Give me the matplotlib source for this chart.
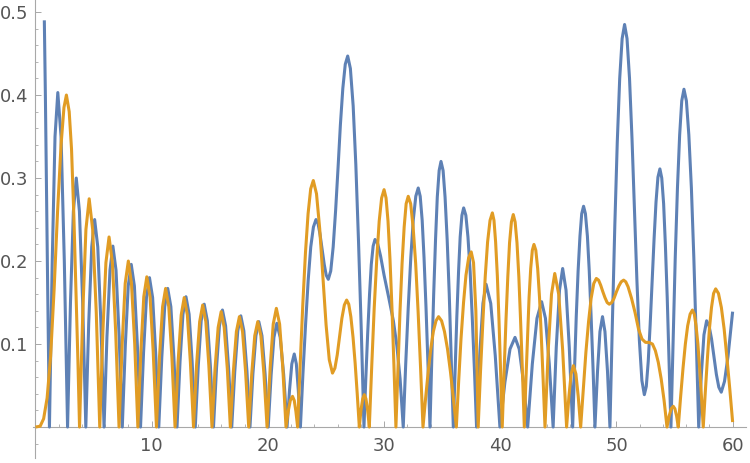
import matplotlib
matplotlib.use("Agg")
import matplotlib.pyplot as plt
from matplotlib.ticker import MultipleLocator

# ---- data (x, value) ----
blue_points = [
    (0.76, 0.49), (0.85, 0.40), (0.95, 0.28), (1.05, 0.165), (1.12, 0.09), (1.20, 0),
    (1.44, 0.20), (1.68, 0.35), (1.92, 0.403), (2.20, 0.35), (2.48, 0.20), (2.76, 0),
    (3.01, 0.15), (3.26, 0.26), (3.51, 0.30), (3.78, 0.26), (4.06, 0.15), (4.33, 0),
    (4.58, 0.125), (4.84, 0.217), (5.09, 0.25), (5.36, 0.217), (5.63, 0.125), (5.90, 0),
    (6.15, 0.109), (6.41, 0.189), (6.66, 0.218), (6.93, 0.189), (7.20, 0.109), (7.47, 0),
    (7.73, 0.098), (7.98, 0.170), (8.24, 0.196), (8.51, 0.170), (8.77, 0.098), (9.04, 0),
    (9.30, 0.090), (9.55, 0.156), (9.81, 0.180), (10.08, 0.156), (10.34, 0.090), (10.61, 0),
    (10.87, 0.084), (11.12, 0.145), (11.38, 0.167), (11.65, 0.145), (11.91, 0.084), (12.18, 0),
    (12.44, 0.079), (12.69, 0.136), (12.95, 0.157), (13.22, 0.136), (13.48, 0.079), (13.75, 0),
    (14.01, 0.074), (14.26, 0.128), (14.52, 0.148), (14.79, 0.128), (15.05, 0.074), (15.32, 0),
    (15.58, 0.071), (15.83, 0.122), (16.09, 0.141), (16.36, 0.122), (16.62, 0.071), (16.89, 0),
    (17.15, 0.067), (17.41, 0.116), (17.67, 0.134), (17.93, 0.116), (18.20, 0.067), (18.46, 0),
    (18.71, 0.064), (18.97, 0.110), (19.22, 0.127), (19.49, 0.110), (19.76, 0.064), (20.03, 0),
    (20.28, 0.063), (20.52, 0.108), (20.77, 0.125), (21.06, 0.108), (21.36, 0.063), (21.65, 0),
    (21.86, 0.044), (22.06, 0.076), (22.27, 0.088), (22.45, 0.076), (22.62, 0.044), (22.80, 0),
    (23.02, 0.065), (23.25, 0.125), (23.47, 0.177), (23.69, 0.217), (23.92, 0.241), (24.14, 0.250),
    (24.32, 0.245), (24.49, 0.232), (24.67, 0.214), (24.85, 0.196), (25.02, 0.183), (25.20, 0.178),
    (25.41, 0.188), (25.62, 0.217), (25.83, 0.261), (26.04, 0.3125), (26.24, 0.364), (26.45, 0.408),
    (26.66, 0.437), (26.87, 0.447),
    (27.10, 0.432), (27.34, 0.387), (27.57, 0.316), (27.80, 0.224), (28.04, 0.116), (28.27, 0),
    (28.43, 0.059), (28.59, 0.113), (28.75, 0.160), (28.90, 0.196), (29.06, 0.218), (29.22, 0.226),
    (29.45, 0.221), (29.70, 0.206), (30.00, 0.183), (30.40, 0.156), (30.80, 0.128), (31.10, 0.098),
    (31.38, 0.058), (31.65, 0),
    (31.86, 0.075), (32.08, 0.144), (32.30, 0.204), (32.51, 0.249), (32.73, 0.278), (32.94, 0.288),
    (33.11, 0.278), (33.28, 0.249), (33.44, 0.204), (33.61, 0.144), (33.78, 0.075), (33.95, 0),
    (34.11, 0.083), (34.27, 0.160), (34.43, 0.226), (34.58, 0.277), (34.74, 0.309), (34.90, 0.320),
    (35.08, 0.309), (35.25, 0.277), (35.43, 0.226), (35.61, 0.160), (35.78, 0.083), (35.96, 0),
    (36.11, 0.068), (36.26, 0.132), (36.41, 0.187), (36.55, 0.229), (36.70, 0.255), (36.85, 0.264),
    (37.04, 0.255), (37.22, 0.229), (37.41, 0.187), (37.59, 0.132), (37.78, 0.068), (37.96, 0),
    (38.23, 0.086), (38.51, 0.149), (38.78, 0.172), (39.18, 0.149), (39.57, 0.086), (39.97, 0),
    (40.40, 0.054), (40.84, 0.094), (41.27, 0.108), (41.63, 0.094), (42.00, 0.054), (42.36, 0),
    (42.76, 0.076), (43.16, 0.131), (43.56, 0.151), (43.89, 0.131), (44.22, 0.076), (44.55, 0),
    (44.82, 0.096), (45.10, 0.165), (45.37, 0.191), (45.66, 0.165), (45.94, 0.096), (46.23, 0),
    (46.39, 0.069), (46.54, 0.133), (46.70, 0.188), (46.86, 0.230), (47.01, 0.257), (47.17, 0.266),
    (47.33, 0.257), (47.50, 0.230), (47.66, 0.188), (47.82, 0.133), (47.99, 0.069), (48.15, 0),
    (48.37, 0.067), (48.58, 0.115), (48.80, 0.133), (49.01, 0.115), (49.23, 0.067), (49.44, 0),
    (49.65, 0.126), (49.86, 0.243), (50.07, 0.343), (50.28, 0.420), (50.49, 0.468), (50.70, 0.485),
    (50.91, 0.468), (51.125, 0.420), (51.34, 0.347), (51.55, 0.262), (51.76, 0.177), (51.975, 0.104),
    (52.19, 0.056), (52.40, 0.039),
    (52.57, 0.049), (52.735, 0.079), (52.90, 0.123), (53.07, 0.175), (53.24, 0.227), (53.405, 0.271),
    (53.57, 0.301), (53.74, 0.311),
    (53.90, 0.300), (54.06, 0.269), (54.21, 0.220), (54.37, 0.156), (54.53, 0.080), (54.69, 0),
    (54.88, 0.105), (55.06, 0.204), (55.25, 0.288), (55.44, 0.352), (55.62, 0.393), (55.81, 0.407),
    (56.02, 0.393), (56.23, 0.352), (56.45, 0.288), (56.66, 0.204), (56.87, 0.105), (57.08, 0),
    (57.31, 0.064), (57.53, 0.111), (57.76, 0.128), (57.97, 0.122), (58.18, 0.1065), (58.39, 0.085),
    (58.60, 0.0635), (58.81, 0.048), (59.02, 0.042),
    (59.30, 0.055), (59.60, 0.085), (60.00, 0.139),
]

orange_points = [
    (0.0, 0), (0.4, 0.001), (0.7, 0.01), (1.0, 0.035), (1.3, 0.085), (1.6, 0.165), (1.9, 0.26),
    (2.2, 0.34), (2.45, 0.385), (2.66, 0.40), (2.9, 0.38), (3.1, 0.335), (3.3, 0.255), (3.5, 0.155),
    (3.65, 0.08), (3.79, 0),
    (4.07, 0.138), (4.34, 0.238), (4.62, 0.275), (4.92, 0.238), (5.23, 0.138), (5.53, 0),
    (5.80, 0.115), (6.06, 0.198), (6.33, 0.229), (6.62, 0.198), (6.90, 0.115), (7.19, 0),
    (7.46, 0.100), (7.72, 0.173), (7.99, 0.200), (8.26, 0.173), (8.54, 0.100), (8.81, 0),
    (9.07, 0.091), (9.32, 0.157), (9.58, 0.181), (9.86, 0.157), (10.13, 0.091), (10.41, 0),
    (10.67, 0.084), (10.94, 0.145), (11.20, 0.167), (11.47, 0.145), (11.74, 0.084), (12.01, 0),
    (12.27, 0.078), (12.54, 0.135), (12.80, 0.156), (13.07, 0.135), (13.33, 0.078), (13.60, 0),
    (13.86, 0.074), (14.13, 0.127), (14.39, 0.147), (14.66, 0.127), (14.92, 0.074), (15.19, 0),
    (15.45, 0.070), (15.72, 0.120), (15.98, 0.139), (16.24, 0.120), (16.51, 0.070), (16.77, 0),
    (17.03, 0.067), (17.29, 0.115), (17.55, 0.133), (17.82, 0.115), (18.08, 0.067), (18.35, 0),
    (18.61, 0.064), (18.87, 0.110), (19.13, 0.127), (19.40, 0.110), (19.66, 0.064), (19.93, 0),
    (20.20, 0.072), (20.46, 0.124), (20.73, 0.143), (21.01, 0.124), (21.28, 0.072), (21.56, 0),
    (21.75, 0.019), (21.93, 0.032), (22.12, 0.037), (22.27, 0.032), (22.41, 0.019), (22.56, 0),
    (22.785, 0.077), (23.01, 0.149), (23.235, 0.210), (23.46, 0.257), (23.685, 0.287), (23.91, 0.297),
    (24.185, 0.281), (24.46, 0.239), (24.735, 0.181), (25.01, 0.123), (25.285, 0.081), (25.56, 0.065),
    (25.77, 0.071), (25.97, 0.087), (26.17, 0.109), (26.37, 0.131), (26.58, 0.147), (26.78, 0.153),
    (26.96, 0.148), (27.14, 0.133), (27.33, 0.108), (27.51, 0.077), (27.69, 0.040), (27.87, 0),
    (28.01, 0.020), (28.16, 0.034), (28.30, 0.039), (28.44, 0.034), (28.59, 0.020), (28.73, 0),
    (28.94, 0.074), (29.15, 0.143), (29.37, 0.202), (29.58, 0.248), (29.79, 0.276), (30.00, 0.286),
    (30.17, 0.276), (30.34, 0.248), (30.51, 0.202), (30.68, 0.143), (30.85, 0.074), (31.02, 0),
    (31.20, 0.072), (31.37, 0.139), (31.55, 0.197), (31.73, 0.241), (31.90, 0.269), (32.08, 0.278),
    (32.29, 0.269), (32.50, 0.241), (32.72, 0.197), (32.93, 0.139), (33.14, 0.072), (33.35, 0),
    (33.57, 0.034), (33.80, 0.067), (34.02, 0.094), (34.24, 0.115), (34.47, 0.128), (34.69, 0.133),
    (34.95, 0.128), (35.20, 0.115), (35.46, 0.094), (35.71, 0.067), (35.97, 0.034), (36.22, 0),
    (36.42, 0.055), (36.62, 0.106), (36.84, 0.150), (37.05, 0.183), (37.28, 0.204), (37.50, 0.211),
    (37.70, 0.198), (37.90, 0.140), (38.10, 0),
    (38.30, 0.067), (38.51, 0.129), (38.71, 0.182), (38.91, 0.223), (39.12, 0.249), (39.32, 0.258),
    (39.46, 0.249), (39.60, 0.223), (39.75, 0.182), (39.89, 0.129), (40.03, 0.067), (40.17, 0),
    (40.33, 0.066), (40.49, 0.128), (40.65, 0.181), (40.80, 0.222), (40.96, 0.247), (41.12, 0.256),
    (41.28, 0.247), (41.44, 0.222), (41.60, 0.181), (41.75, 0.128), (41.91, 0.066), (42.07, 0),
    (42.21, 0.057), (42.35, 0.110), (42.48, 0.156), (42.62, 0.191), (42.76, 0.213), (42.90, 0.220),
    (43.06, 0.213), (43.22, 0.191), (43.38, 0.156), (43.53, 0.110), (43.69, 0.057), (43.85, 0),
    (44.13, 0.093), (44.41, 0.160), (44.69, 0.185), (45.03, 0.160), (45.37, 0.093), (45.71, 0),
    (45.91, 0.037), (46.10, 0.064), (46.30, 0.074), (46.51, 0.064), (46.71, 0.037), (46.92, 0),
    (47.15, 0.046), (47.37, 0.090), (47.60, 0.127), (47.82, 0.155), (48.05, 0.173), (48.27, 0.179),
    (48.46, 0.177), (48.64, 0.171), (48.83, 0.163), (49.01, 0.156), (49.20, 0.150), (49.38, 0.148),
    (49.59, 0.150), (49.79, 0.155), (50.00, 0.163), (50.21, 0.170), (50.41, 0.175), (50.62, 0.177),
    (50.80, 0.175), (51.00, 0.169), (51.30, 0.155), (51.60, 0.138), (51.90, 0.118), (52.20, 0.106),
    (52.50, 0.102), (52.80, 0.102), (53.10, 0.100), (53.35, 0.092), (53.60, 0.078), (53.85, 0.058),
    (54.10, 0.032), (54.35, 0),
    (54.53, 0.013), (54.71, 0.022), (54.89, 0.025), (55.03, 0.022), (55.18, 0.013), (55.32, 0),
    (55.52, 0.036), (55.73, 0.071), (55.93, 0.100), (56.13, 0.122), (56.34, 0.136), (56.54, 0.141),
    (56.70, 0.136), (56.85, 0.122), (57.01, 0.100), (57.16, 0.071), (57.32, 0.036), (57.47, 0),
    (57.65, 0.043), (57.83, 0.083), (58.00, 0.118), (58.18, 0.144), (58.36, 0.161), (58.54, 0.1665),
    (58.78, 0.161), (59.03, 0.144), (59.27, 0.118), (59.51, 0.083), (59.76, 0.045), (60.00, 0.006),
]

x_ticks = [10, 20, 30, 40, 50, 60]
x_tick_labels = ["10", "20", "30", "40", "50", "60"]
y_ticks = [0.1, 0.2, 0.3, 0.4, 0.5]
y_tick_labels = ["0.1", "0.2", "0.3", "0.4", "0.5"]

BLUE = "#5E81B5"
ORANGE = "#E19C24"
AXIS = "#a8a8a8"
LABEL = "#555555"

fig = plt.figure(figsize=(7.5, 4.63), dpi=100)
ax = fig.add_axes([33 / 750, 5 / 463, 713 / 750, 458 / 463])

bx, by = zip(*blue_points)
ox, oy = zip(*orange_points)
ax.plot(bx, by, color=BLUE, lw=2.2, solid_joinstyle="round", solid_capstyle="butt", zorder=3)
ax.plot(ox, oy, color=ORANGE, lw=2.2, solid_joinstyle="round", solid_capstyle="butt", zorder=4)

ax.set_xlim(-0.215, 61.15)
ax.set_ylim(-0.0373, 0.5145)

for s in ("top", "right"):
    ax.spines[s].set_visible(False)
ax.spines["left"].set_position(("data", 0))
ax.spines["bottom"].set_position(("data", 0))
for s in ("left", "bottom"):
    ax.spines[s].set_color(AXIS)
    ax.spines[s].set_linewidth(0.8)

ax.set_xticks(x_ticks)
ax.set_xticklabels(x_tick_labels)
ax.set_yticks(y_ticks)
ax.set_yticklabels(y_tick_labels)
ax.xaxis.set_minor_locator(MultipleLocator(2))
ax.yaxis.set_minor_locator(MultipleLocator(0.02))

ax.tick_params(which="major", direction="in", length=4.5, width=0.7, color=AXIS,
               labelsize=13, labelcolor=LABEL)
ax.tick_params(which="minor", direction="in", length=2.5, width=0.6, color=AXIS)
ax.tick_params(axis="x", which="major", pad=7)
ax.tick_params(axis="y", which="major", pad=5)
ax.patch.set_alpha(0)

fig.savefig("out.png", dpi=100)
